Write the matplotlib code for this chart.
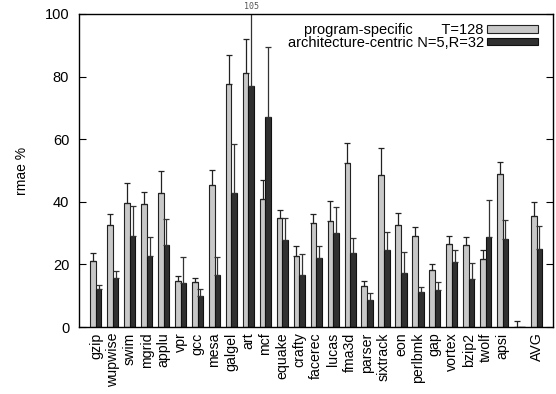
import matplotlib
matplotlib.use("Agg")
import matplotlib.pyplot as plt
import numpy as np

plt.rcParams['font.family'] = ['Liberation Sans', 'DejaVu Sans']

benchmarks = ["gzip", "wupwise", "swim", "mgrid", "applu", "vpr", "gcc", "mesa",
              "galgel", "art", "mcf", "equake", "crafty", "facerec", "lucas",
              "fma3d", "parser", "sixtrack", "eon", "perlbmk", "gap", "vortex",
              "bzip2", "twolf", "apsi", "", "AVG"]

prog_mean = [21.0, 32.5, 39.5, 39.3, 42.7, 14.8, 14.5, 45.5, 77.5, 81.0, 40.8, 34.8,
             22.7, 33.2, 33.8, 52.3, 13.2, 48.7, 32.7, 29.2, 18.2, 26.4, 26.1, 21.6,
             48.9, 0.0, 35.6]
prog_top = [23.5, 36.0, 46.0, 43.0, 49.8, 16.3, 15.8, 50.3, 86.8, 92.0, 47.0, 37.5,
            26.0, 36.0, 40.3, 58.8, 14.7, 57.1, 36.5, 31.8, 20.0, 29.1, 28.8, 24.6,
            52.6, 1.8, 40.0]

arch_mean = [12.0, 15.5, 29.0, 22.8, 26.2, 14.2, 10.0, 16.6, 42.7, 77.0, 67.0, 27.8,
             16.5, 22.2, 30.0, 23.5, 8.5, 24.7, 17.2, 11.2, 11.8, 20.8, 15.4, 28.9,
             28.1, 0.0, 24.8]
arch_top = [13.5, 18.0, 38.8, 28.8, 34.5, 22.3, 12.0, 22.5, 58.6, 105.0, 89.3, 34.8,
            23.3, 26.0, 38.3, 28.3, 11.0, 30.4, 23.9, 12.8, 14.3, 24.6, 20.5, 40.5,
            34.3, 0.0, 32.4]

x = np.arange(len(benchmarks))
w = 0.33
prog_err = np.array(prog_top) - np.array(prog_mean)
arch_err = np.array(arch_top) - np.array(arch_mean)

fig = plt.figure(figsize=(5.56, 3.94), dpi=100)
ax = fig.add_axes([0.142, 0.170, 0.8535, 0.7945])

ax.bar(x - w/2, prog_mean, w, color="#c8c8c8", edgecolor="#222222", linewidth=0.8,
       label="program-specific       T=128")
ax.bar(x + w/2, arch_mean, w, color="#303030", edgecolor="#111111", linewidth=0.8,
       label="architecture-centric N=5,R=32")
ax.errorbar(x - w/2, prog_mean, yerr=[np.zeros(len(x)), prog_err], fmt="none",
            ecolor="#222222", elinewidth=0.9, capsize=2.5, capthick=0.9)
ax.errorbar(x + w/2, arch_mean, yerr=[np.zeros(len(x)), arch_err], fmt="none",
            ecolor="#333333", elinewidth=0.9, capsize=2.5, capthick=0.9)

# clipped value label for art
i_art = benchmarks.index("art")
ax.annotate("%d" % arch_top[i_art], xy=(x[i_art] + w/2, 100), xytext=(0, 2),
            textcoords="offset points", ha="center", va="bottom", fontsize=6,
            color="#555555", family="DejaVu Sans Mono", annotation_clip=False)

ax.set_xlim(-1, 27)
ax.set_ylim(0, 100)
ax.set_yticks([0, 20, 40, 60, 80, 100])
ax.set_xticks(x)
ax.set_xticklabels(benchmarks, rotation=90, fontsize=10.2)
ax.tick_params(axis="x", length=0, pad=4)
ax.tick_params(axis="y", direction="in", right=True, length=5, labelsize=10.5, pad=7)
ax.set_ylabel("rmae %", fontsize=10, labelpad=11)
for s in ax.spines.values():
    s.set_linewidth(1.0)

leg = ax.legend(loc="upper right", bbox_to_anchor=(1 - 10 / 474.5, 1 - 4 / 313),
                frameon=False, markerfirst=False, fontsize=10.5,
                alignment="right", handlelength=3.5, handleheight=0.45,
                labelspacing=-0.1, borderaxespad=0, borderpad=0.35,
                handletextpad=0.25)

fig.savefig("out.png", dpi=100)
